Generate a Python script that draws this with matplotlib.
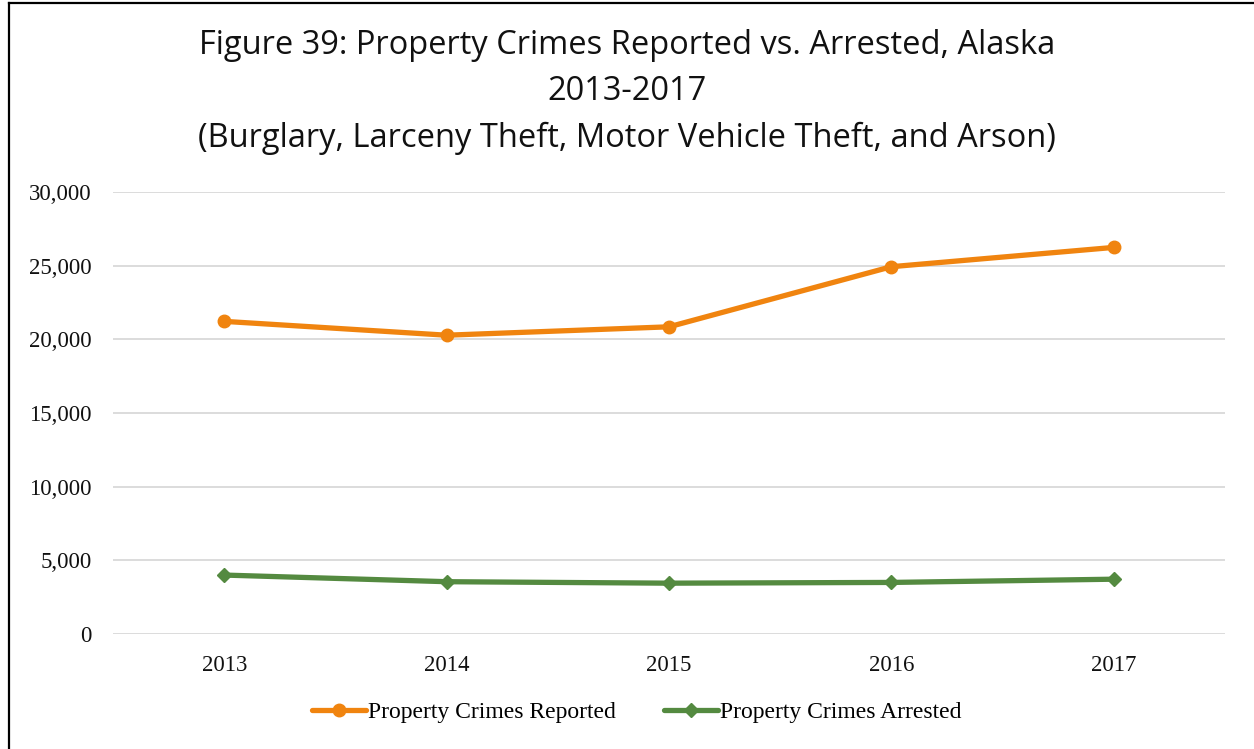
import matplotlib.pyplot as plt
from matplotlib.lines import Line2D
from matplotlib.ticker import FuncFormatter

years = ['2013', '2014', '2015', '2016', '2017']
reported = [21220, 20280, 20850, 24930, 26240]
arrested = [4000, 3550, 3450, 3500, 3720]

orange = '#f0840f'
green = '#548a40'

fig = plt.figure(figsize=(12.54, 7.49), dpi=100)
ax = fig.add_axes([113 / 1254, 115 / 749, 1112 / 1254, 442 / 749])

x = list(range(len(years)))
ax.plot(x, reported, color=orange, lw=3.8, marker='o', markersize=9,
        solid_capstyle='round', label='Property Crimes Reported', zorder=3)
ax.plot(x, arrested, color=green, lw=3.8, marker='D', markersize=7.5,
        solid_capstyle='round', label='Property Crimes Arrested', zorder=3)

ax.set_xlim(-0.5, 4.5)
ax.set_ylim(0, 30000)
ax.set_yticks(range(0, 30001, 5000))
ax.yaxis.set_major_formatter(FuncFormatter(lambda v, p: f'{int(v):,}'))
ax.set_xticks(x)
ax.set_xticklabels(years)
ax.grid(axis='y', color='#d9d9d9', lw=1.3)
ax.set_axisbelow(True)
for s in ax.spines.values():
    s.set_visible(False)
ax.tick_params(length=0, labelsize=16.5, labelcolor='#111111')
ax.tick_params(axis='y', pad=15.5)
ax.tick_params(axis='x', pad=15)
for lab in ax.get_xticklabels() + ax.get_yticklabels():
    lab.set_fontfamily('Liberation Serif')

# three-line title
title_lines = ['Figure 39: Property Crimes Reported vs. Arrested, Alaska',
               '2013-2017',
               '(Burglary, Larceny Theft, Motor Vehicle Theft, and Arson)']
for line, ypix in zip(title_lines, [46, 92, 138]):
    fig.text(0.5, 1 - ypix / 749, line, ha='center', va='center',
             fontsize=23.5, family='Open Sans', color='#111111')

leg = ax.legend(loc='center', bbox_to_anchor=(0.471, -0.178), ncol=2,
                frameon=False, handlelength=2.3, columnspacing=2.0,
                handletextpad=0.1,
                prop={'family': 'Liberation Serif', 'size': 17})

# outer frame of the chart box
fig.add_artist(Line2D([9 / 1254, 9 / 1254], [0, 1 - 3 / 749], color='black', lw=1.6))
fig.add_artist(Line2D([9 / 1254, 1], [1 - 3 / 749, 1 - 3 / 749], color='black', lw=1.6))

fig.savefig('out.png', dpi=100)
